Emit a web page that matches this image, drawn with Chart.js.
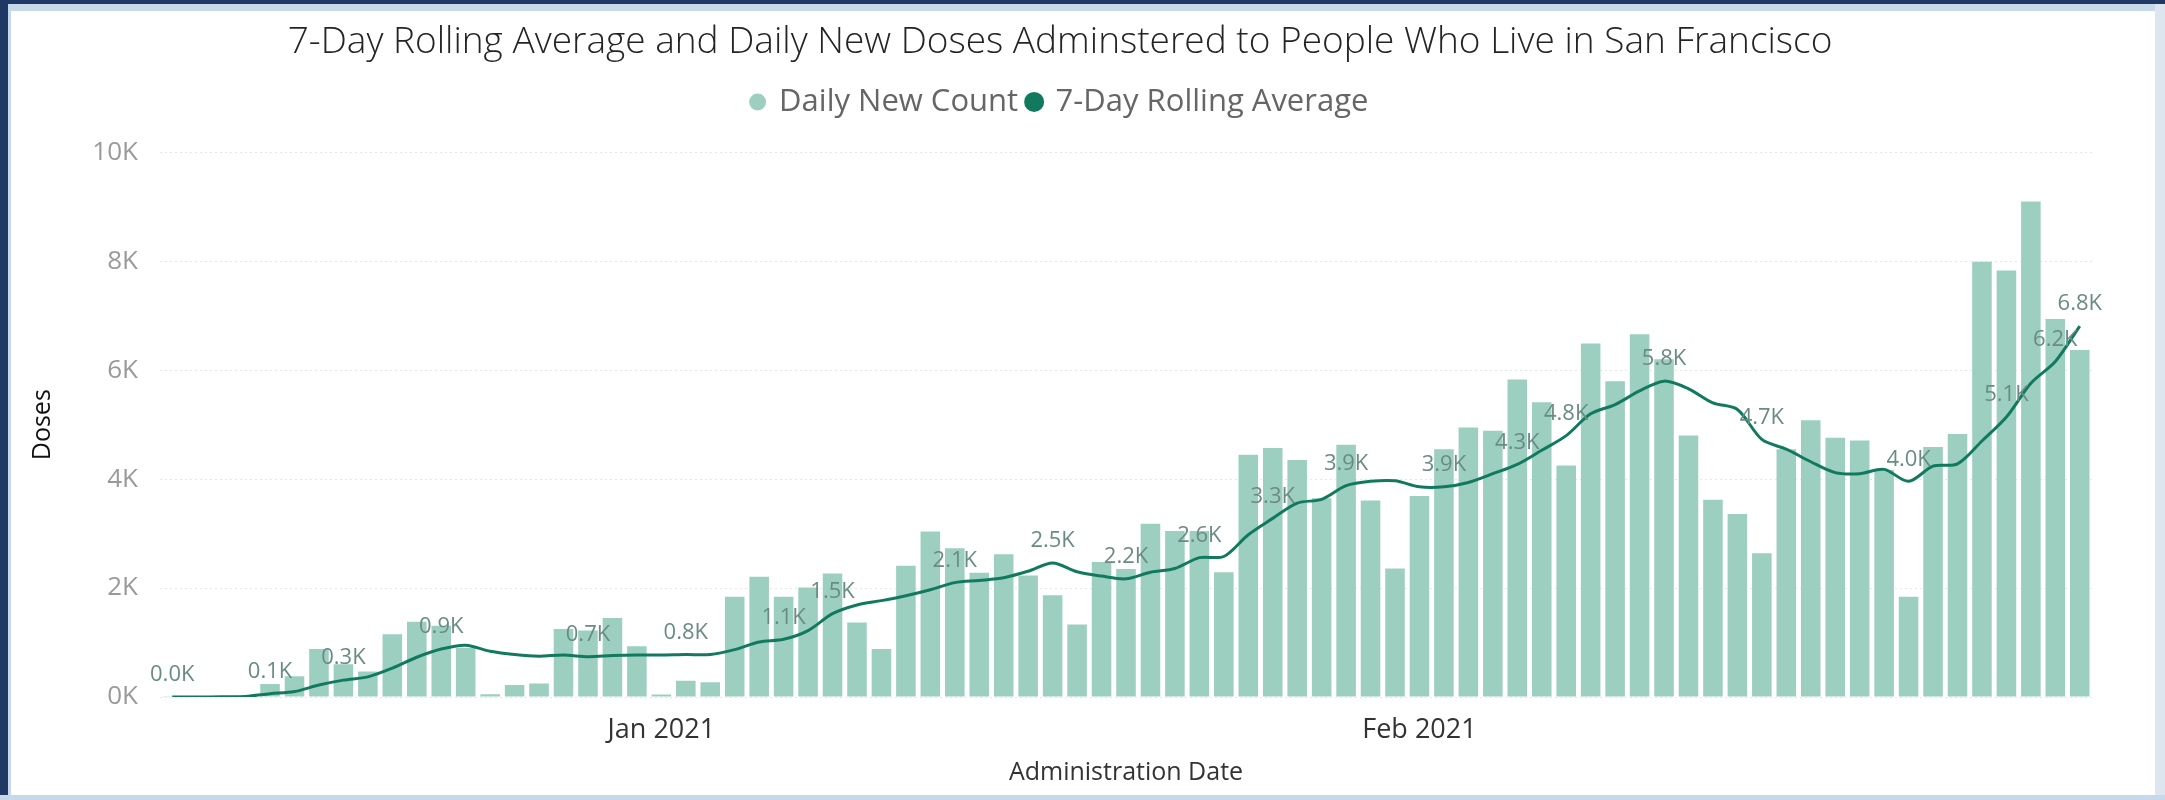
<!DOCTYPE html>
<html>
<head>
<meta charset="utf-8">
<script src="https://cdn.jsdelivr.net/npm/chart.js@4.4.1/dist/chart.umd.min.js"></script>
<style>
  html, body { margin: 0; padding: 0; background: #ffffff; }
  #wrap { position: absolute; left: 0; top: 0; width: 2165px; height: 800px; }
  .edge { position: absolute; pointer-events: none; }
</style>
</head>
<body>
<div id="wrap">
  <canvas id="doses"></canvas>
  <div class="edge" style="left:0;top:0;width:2165px;height:4px;background:#1f3864"></div>
  <div class="edge" style="left:0;top:4px;width:2165px;height:7px;background:#c6d8ea"></div>
  <div class="edge" style="left:0;top:0;width:8px;height:800px;background:#1f3864"></div>
  <div class="edge" style="left:8px;top:4px;width:3px;height:796px;background:#c6d8ea"></div>
  <div class="edge" style="right:0;top:4px;width:10px;height:796px;background:#dde6ef"></div>
  <div class="edge" style="left:0;bottom:0;width:2165px;height:5px;background:#c6d8ea"></div>
</div>
<script>
// administration dates, Dec 12 2020 .. Feb 28 2021
const dates = [
  'Dec 12','Dec 13','Dec 14','Dec 15','Dec 16','Dec 17','Dec 18','Dec 19','Dec 20','Dec 21',
  'Dec 22','Dec 23','Dec 24','Dec 25','Dec 26','Dec 27','Dec 28','Dec 29','Dec 30','Dec 31',
  'Jan 1','Jan 2','Jan 3','Jan 4','Jan 5','Jan 6','Jan 7','Jan 8','Jan 9','Jan 10',
  'Jan 11','Jan 12','Jan 13','Jan 14','Jan 15','Jan 16','Jan 17','Jan 18','Jan 19','Jan 20',
  'Jan 21','Jan 22','Jan 23','Jan 24','Jan 25','Jan 26','Jan 27','Jan 28','Jan 29','Jan 30',
  'Jan 31','Feb 1','Feb 2','Feb 3','Feb 4','Feb 5','Feb 6','Feb 7','Feb 8','Feb 9',
  'Feb 10','Feb 11','Feb 12','Feb 13','Feb 14','Feb 15','Feb 16','Feb 17','Feb 18','Feb 19',
  'Feb 20','Feb 21','Feb 22','Feb 23','Feb 24','Feb 25','Feb 26','Feb 27','Feb 28'
];

// daily new doses
const dailyNew = [
  3, 12, 8, 25, 240, 380, 880, 600, 470, 1150,
  1380, 1310, 900, 50, 220, 250, 1250, 1220, 1450, 930,
  45, 300, 270, 1840, 2210, 1840, 2010, 2270, 1370, 880,
  2410, 3040, 2730, 2280, 2620, 2230, 1870, 1330, 2480, 2350,
  3180, 3050, 3050, 2290, 4450, 4570, 4350, 3650, 4630, 3610,
  2360, 3690, 4550, 4950, 4890, 5830, 5410, 4250, 6490, 5800,
  6660, 6200, 4800, 3620, 3360, 2640, 4550, 5080, 4760, 4710,
  4170, 1840, 4590, 4830, 7990, 7830, 9100, 6940, 6370
];

// 7-day rolling average
const rollingAvg = [
  0, 0, 5, 10, 60, 100, 220, 310, 370, 530,
  730, 880, 950, 840, 780, 750, 770, 740, 760, 770,
  770, 780, 780, 870, 1010, 1060, 1220, 1530, 1690, 1770,
  1860, 1970, 2100, 2140, 2190, 2310, 2460, 2300, 2220, 2170,
  2290, 2360, 2560, 2580, 2980, 3280, 3560, 3630, 3880, 3960,
  3970, 3860, 3860, 3940, 4100, 4270, 4530, 4800, 5200, 5370,
  5620, 5800, 5660, 5400, 5280, 4730, 4550, 4320, 4120, 4100,
  4180, 3960, 4240, 4280, 4700, 5140, 5760, 6160, 6810
];

// points of the average that carry a data label
const labelledDays = ['Dec 12','Dec 16','Dec 19','Dec 23','Dec 29','Jan 2','Jan 6','Jan 8',
  'Jan 13','Jan 17','Jan 20','Jan 23','Jan 26','Jan 29','Feb 2','Feb 5','Feb 7','Feb 11',
  'Feb 15','Feb 21','Feb 25','Feb 27','Feb 28'];

// x axis tick labels
const tickDays = ['Jan 1', 'Feb 1'];
const tickTexts = ['Jan 2021', 'Feb 2021'];

const FONT = "'Open Sans', 'Noto Sans', sans-serif";
const barColor = '#9dcfc1';
const lineColor = '#117a5e';

// 平均線の上にラベルを描く
const avgLabels = {
  id: 'avgLabels',
  afterDatasetsDraw(chart) {
    const meta = chart.getDatasetMeta(1);
    const ctx = chart.ctx;
    ctx.save();
    ctx.font = '22px ' + FONT;
    ctx.textAlign = 'center';
    ctx.textBaseline = 'middle';
    labelledDays.forEach(day => {
      const i = dates.indexOf(day);
      const pt = meta.data[i];
      const text = (rollingAvg[i] / 1000).toFixed(1) + 'K';
      ctx.fillStyle = '#6a8b84';
      ctx.fillText(text, pt.x, pt.y - 22);
    });
    ctx.restore();
  }
};

// 凡例の下に余白を足す
const legendGap = {
  id: 'legendGap',
  beforeInit(chart) {
    const fit = chart.legend.fit;
    chart.legend.fit = function() {
      fit.bind(chart.legend)();
      this.height += 25;
    };
  }
};

Chart.defaults.font.family = FONT;

new Chart(document.getElementById('doses'), {
  type: 'bar',
  data: {
    labels: dates,
    datasets: [
      {
        type: 'bar',
        label: 'Daily New Count',
        data: dailyNew,
        backgroundColor: barColor,
        barPercentage: 0.8,
        categoryPercentage: 1.0,
        pointStyle: 'circle',
        order: 1
      },
      {
        type: 'line',
        label: '7-Day Rolling Average',
        data: rollingAvg,
        borderColor: lineColor,
        backgroundColor: lineColor,
        borderWidth: 3,
        pointRadius: 0,
        tension: 0.3,
        pointStyle: 'circle',
        order: 0
      }
    ]
  },
  options: {
    responsive: true,
    maintainAspectRatio: false,
    devicePixelRatio: 1,
    animation: false,
    layout: { padding: { left: 28, right: 73, top: 0, bottom: 12 } },
    plugins: {
      title: {
        display: true,
        text: '7-Day Rolling Average and Daily New Doses Adminstered to People Who Live in San Francisco',
        color: '#252423',
        font: { size: 37, weight: '300' },
        padding: { top: 20, bottom: 12 }
      },
      legend: {
        display: true,
        labels: {
          color: '#666666',
          font: { size: 31 },
          usePointStyle: true,
          boxWidth: 12,
          boxHeight: 12,
          padding: 10,
          sort: (a, b) => a.datasetIndex - b.datasetIndex
        }
      },
      tooltip: { enabled: false }
    },
    scales: {
      x: {
        offset: true,
        grid: { display: false },
        border: { display: false },
        ticks: {
          autoSkip: false,
          maxRotation: 0,
          color: '#333333',
          font: { size: 27 },
          padding: 9,
          callback: function(value) {
            const k = tickDays.indexOf(dates[value]);
            return k >= 0 ? tickTexts[k] : '';
          }
        },
        title: {
          display: true,
          text: 'Administration Date',
          color: '#333333',
          font: { size: 25 },
          padding: { top: 0, bottom: 0 }
        },
        afterFit(axis) { axis.height = 91; }
      },
      y: {
        min: 0,
        max: 10000,
        ticks: {
          stepSize: 2000,
          color: '#9a9a9a',
          font: { size: 26 },
          padding: 22,
          callback: v => (v / 1000) + 'K'
        },
        grid: { color: '#e6e6e6', drawTicks: false },
        border: { display: false, dash: [2, 3] },
        title: {
          display: true,
          text: 'Doses',
          color: '#111111',
          font: { size: 25 },
          padding: 0
        },
        afterFit(axis) { axis.width = 132; }
      }
    }
  },
  plugins: [avgLabels, legendGap]
});
</script>
</body>
</html>
